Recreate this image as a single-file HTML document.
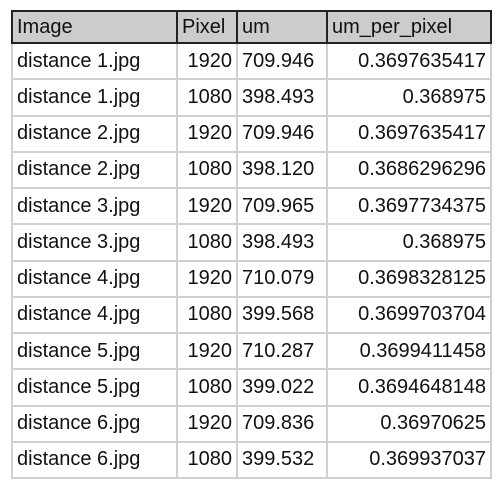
<!DOCTYPE html>
<html><head><meta charset="utf-8"><style>
body{margin:0;width:500px;height:488px;background:#fff;overflow:hidden}
table{position:absolute;left:11px;top:10px;border-collapse:collapse;font-family:"Liberation Sans",Arial,sans-serif;font-size:20px;color:#111;table-layout:fixed}
td,th{border:2px solid #d0d0d0;padding:0 4px;white-space:nowrap;height:36.25px;font-weight:normal;box-sizing:border-box}
th{background:#cccccc;border:2px solid #222;text-align:left;height:32px}
td.n{text-align:right}
</style></head><body>
<table>
<colgroup><col style="width:165px"><col style="width:60px"><col style="width:90px"><col style="width:164px"></colgroup>
<thead><tr>
<th>Image</th>
<th>Pixel</th>
<th>um</th>
<th>um_per_pixel</th></tr></thead>
<tbody>
<tr><td>distance 1.jpg</td><td class="n">1920</td><td>709.946</td><td class="n">0.3697635417</td></tr>
<tr><td>distance 1.jpg</td><td class="n">1080</td><td>398.493</td><td class="n">0.368975</td></tr>
<tr><td>distance 2.jpg</td><td class="n">1920</td><td>709.946</td><td class="n">0.3697635417</td></tr>
<tr><td>distance 2.jpg</td><td class="n">1080</td><td>398.120</td><td class="n">0.3686296296</td></tr>
<tr><td>distance 3.jpg</td><td class="n">1920</td><td>709.965</td><td class="n">0.3697734375</td></tr>
<tr><td>distance 3.jpg</td><td class="n">1080</td><td>398.493</td><td class="n">0.368975</td></tr>
<tr><td>distance 4.jpg</td><td class="n">1920</td><td>710.079</td><td class="n">0.3698328125</td></tr>
<tr><td>distance 4.jpg</td><td class="n">1080</td><td>399.568</td><td class="n">0.3699703704</td></tr>
<tr><td>distance 5.jpg</td><td class="n">1920</td><td>710.287</td><td class="n">0.3699411458</td></tr>
<tr><td>distance 5.jpg</td><td class="n">1080</td><td>399.022</td><td class="n">0.3694648148</td></tr>
<tr><td>distance 6.jpg</td><td class="n">1920</td><td>709.836</td><td class="n">0.36970625</td></tr>
<tr><td>distance 6.jpg</td><td class="n">1080</td><td>399.532</td><td class="n">0.369937037</td></tr>
</tbody></table>
</body></html>
